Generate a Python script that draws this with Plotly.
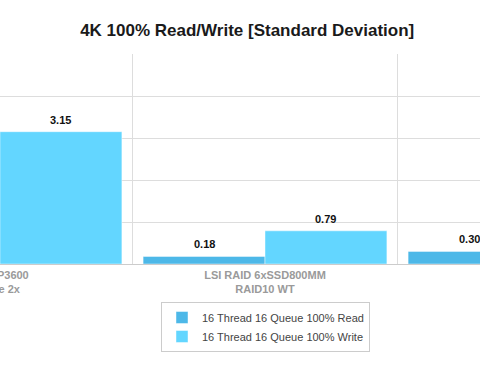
import plotly.graph_objects as go

categories = ["Intel P3600<br>PCIe 2x", "LSI RAID 6xSSD800MM<br>RAID10 WT", "LSI RAID 6xSSD800MM<br>RAID10 WB"]
read_values = [None, 0.18, 0.30]
write_values = [3.15, 0.79, None]
series_names = ["16 Thread 16 Queue 100% Read", "16 Thread 16 Queue 100% Write"]
title_text = "4K 100% Read/Write [Standard Deviation]"

READ_COLOR = "#4db8e8"
WRITE_COLOR = "#63d6ff"
BARGAP = 0.08
FONT = "Liberation Sans"

fig = go.Figure()
fig.add_trace(go.Bar(x=categories, y=read_values, name=series_names[0],
                     marker=dict(color=READ_COLOR, line=dict(color="rgba(255,255,255,0.45)", width=1))))
fig.add_trace(go.Bar(x=categories, y=write_values, name=series_names[1],
                     marker=dict(color=WRITE_COLOR, line=dict(color="rgba(255,255,255,0.45)", width=1))))

half = (1 - BARGAP) / 4
annotations = []
for i, (r, w) in enumerate(zip(read_values, write_values)):
    for val, off in ((r, -half), (w, half)):
        if val is None:
            continue
        annotations.append(dict(x=i + off, y=val, xref="x", yref="y", text=f"{val:.2f}",
                                showarrow=False, yanchor="bottom", yshift=4,
                                font=dict(family=FONT, size=11, color="#111", weight="bold")))

fig.update_layout(
    width=480, height=380,
    margin=dict(l=0, r=0, t=54, b=116, autoexpand=False),
    paper_bgcolor="white", plot_bgcolor="white",
    barmode="group", bargap=BARGAP, bargroupgap=0,
    font=dict(family=FONT),
    title=dict(text=title_text, x=0.515, xanchor="center", yref="container", y=1 - 30 / 380, yanchor="middle",
               font=dict(family=FONT, size=17, color="#1a1a1a", weight="bold")),
    xaxis=dict(type="category", range=[0, 480 / 265], tickson="boundaries", ticklen=0,
               automargin=False, ticklabelstandoff=3,
               showgrid=True, gridcolor="#dddddd", gridwidth=1,
               tickfont=dict(family=FONT, size=11, color="#9a9a9a", weight="bold")),
    yaxis=dict(range=[0, 5], dtick=1, showticklabels=False, showgrid=True, automargin=False,
               gridcolor="#dddddd", gridwidth=1, zeroline=True, zerolinecolor="#cccccc", zerolinewidth=1),
    legend=dict(x=265.5 / 480, xanchor="center", y=-38 / 210, yanchor="top",
                bordercolor="#cccccc", borderwidth=1, bgcolor="white",
                font=dict(family=FONT, size=11, color="#444"), tracegroupgap=0),
    annotations=annotations,
    showlegend=True,
)

fig.write_html("out.html", config={"displayModeBar": False},
               post_script="document.body.style.margin='0';document.body.style.overflow='hidden';")
